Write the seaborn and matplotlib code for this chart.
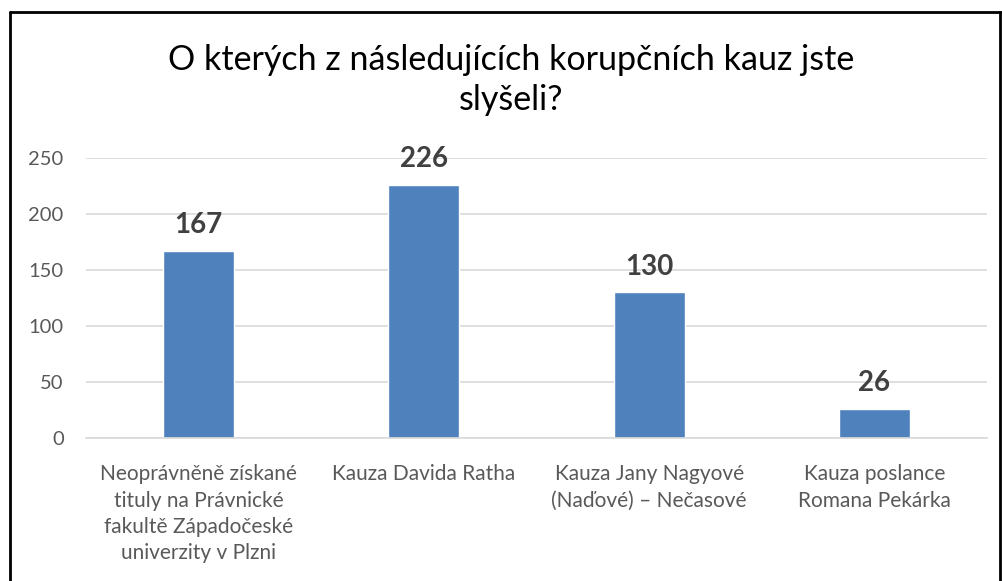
import seaborn as sns
import matplotlib.pyplot as plt
import pandas as pd
from matplotlib.lines import Line2D

# Data
categories = [
    'Neoprávněně získané\ntituly na Právnické\nfakultě Západočeské\nuniverzity v Plzni',
    'Kauza Davida Ratha',
    'Kauza Jany Nagyové\n(Naďové) – Nečasové',
    'Kauza poslance\nRomana Pekárka',
]
counts = [167, 226, 130, 26]

df = pd.DataFrame({'kauza': categories, 'pocet': counts})

sns.set_theme(style='white')
plt.rcParams['font.family'] = ['Lato', 'DejaVu Sans']

fig = plt.figure(figsize=(10.02, 5.81), dpi=100)
ax = fig.add_axes([0.0858, 0.2461, 0.8992, 0.4820])

sns.barplot(data=df, x='kauza', y='pocet', color='#4F81BD', width=0.316,
            saturation=1, ax=ax)

ax.set_ylim(0, 250)
ax.set_yticks(range(0, 251, 50))
ax.set_xlim(-0.5, 3.5)
ax.yaxis.grid(True, color='#D9D9D9', linewidth=1.2)
ax.set_axisbelow(True)
for s in ['top', 'right', 'left']:
    ax.spines[s].set_visible(False)
ax.spines['bottom'].set_color('#D9D9D9')
ax.spines['bottom'].set_linewidth(1.2)
ax.tick_params(axis='y', colors='#595959', labelsize=14.5, length=0, pad=16)
ax.tick_params(axis='x', colors='#595959', labelsize=15, length=0, pad=19)
for lbl in ax.get_xticklabels():
    lbl.set_linespacing(1.39)
ax.set_xlabel('')
ax.set_ylabel('')

for i, v in enumerate(counts):
    ax.annotate(str(v), (i, v), xytext=(0, 9), textcoords='offset points',
                ha='center', va='bottom', fontsize=20, fontweight='bold',
                color='#404040')

fig.text(0.51, 0.862, 'O kterých z následujících korupčních kauz jste\nslyšeli?',
         ha='center', va='center', fontsize=24.5, color='black', linespacing=1.32)

# chart border (left, top, right)
bx0, bx1, by1 = 0.0095, 0.998, 0.979
for xs, ys in [([bx0, bx0], [0, by1]), ([bx0, 1.0], [by1, by1]), ([bx1, bx1], [0, by1])]:
    fig.add_artist(Line2D(xs, ys, transform=fig.transFigure, color='black', linewidth=2))

fig.savefig('out.png', dpi=100)
